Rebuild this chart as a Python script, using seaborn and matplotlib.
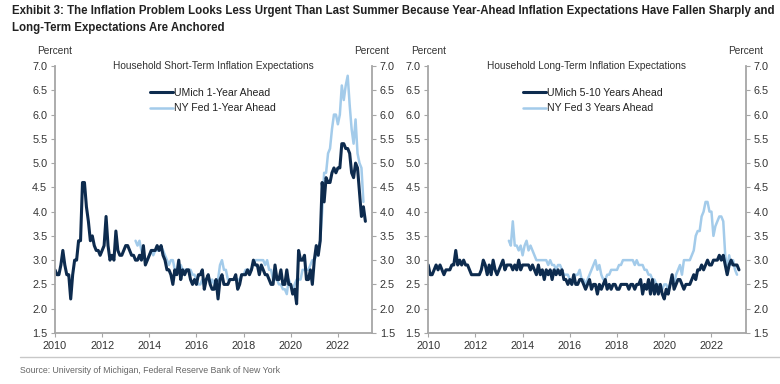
import numpy as np
import pandas as pd
import matplotlib
matplotlib.use("Agg")
import matplotlib.pyplot as plt
import seaborn as sns

sns.set_style("white")
plt.rcParams["font.family"] = ["Liberation Sans", "DejaVu Sans"]

# monthly data, percent
umich_1y = [
    2.8, 2.7, 2.7, 2.9, 3.2, 2.9, 2.7, 2.7, 2.2, 2.7, 3.0, 3.0,   # 2010
    3.4, 3.4, 4.6, 4.6, 4.1, 3.8, 3.4, 3.5, 3.3, 3.2, 3.2, 3.1,   # 2011
    3.2, 3.3, 3.9, 3.3, 3.0, 3.1, 3.0, 3.6, 3.2, 3.1, 3.1, 3.2,   # 2012
    3.3, 3.3, 3.2, 3.1, 3.1, 3.0, 3.0, 3.1, 3.0, 3.3, 2.9, 3.0,   # 2013
    3.1, 3.2, 3.2, 3.2, 3.3, 3.2, 3.3, 3.1, 3.0, 2.8, 2.8, 2.7,   # 2014
    2.5, 2.8, 2.7, 3.0, 2.6, 2.8, 2.7, 2.8, 2.8, 2.6, 2.5, 2.6,   # 2015
    2.5, 2.7, 2.7, 2.8, 2.4, 2.6, 2.7, 2.5, 2.4, 2.4, 2.6, 2.2,   # 2016
    2.6, 2.7, 2.5, 2.5, 2.5, 2.6, 2.6, 2.6, 2.7, 2.4, 2.5, 2.7,   # 2017
    2.7, 2.7, 2.8, 2.7, 2.8, 3.0, 2.9, 2.9, 2.7, 2.9, 2.8, 2.7,   # 2018
    2.7, 2.6, 2.5, 2.5, 2.9, 2.6, 2.6, 2.8, 2.5, 2.5, 2.8, 2.5,   # 2019
    2.5, 2.3, 2.4, 2.1, 3.2, 3.0, 3.0, 3.1, 2.6, 2.6, 2.8, 2.5,   # 2020
    3.0, 3.3, 3.1, 3.4, 4.6, 4.2, 4.7, 4.6, 4.6, 4.8, 4.9, 4.8,   # 2021
    4.9, 4.9, 5.4, 5.4, 5.3, 5.3, 5.2, 4.8, 4.7, 5.0, 4.9, 4.4,   # 2022
    3.9, 4.1, 3.8,                                                # 2023
]
nyfed_1y = [
    3.4, 3.3, 3.4, 3.2, 3.1, 3.0, 3.0,                            # 2013 Jun-Dec
    3.1, 3.2, 3.1, 3.2, 3.2, 3.2, 3.3, 3.2, 3.1, 3.0, 2.9, 3.0,   # 2014
    3.0, 2.8, 2.8, 2.8, 2.9, 2.8, 2.8, 2.8, 2.8, 2.8, 2.7, 2.7,   # 2015
    2.6, 2.5, 2.5, 2.6, 2.6, 2.6, 2.7, 2.5, 2.6, 2.5, 2.4, 2.6,   # 2016
    2.9, 3.0, 2.8, 2.8, 2.6, 2.6, 2.6, 2.6, 2.6, 2.6, 2.6, 2.7,   # 2017
    2.7, 2.8, 2.8, 2.8, 2.8, 2.9, 3.0, 3.0, 3.0, 3.0, 3.0, 2.9,   # 2018
    3.0, 2.8, 2.8, 2.6, 2.6, 2.6, 2.5, 2.5, 2.4, 2.4, 2.3, 2.6,   # 2019
    2.5, 2.4, 2.5, 2.6, 2.6, 2.6, 2.8, 2.8, 2.8, 2.8, 2.9, 3.0,   # 2020
    3.0, 3.1, 3.2, 3.4, 4.0, 4.8, 4.8, 5.2, 5.3, 5.7, 6.0, 6.0,   # 2021
    5.8, 6.0, 6.6, 6.3, 6.6, 6.8, 6.2, 5.7, 5.4, 5.9, 5.2, 5.0,   # 2022
    4.9, 4.2,                                                     # 2023
]
umich_5_10y = [
    2.9, 2.7, 2.7, 2.8, 2.9, 2.8, 2.9, 2.8, 2.7, 2.8, 2.8, 2.8,   # 2010
    2.9, 2.9, 3.2, 2.9, 3.0, 2.9, 3.0, 2.9, 2.9, 2.8, 2.7, 2.7,   # 2011
    2.7, 2.7, 2.7, 2.8, 3.0, 2.9, 2.7, 2.9, 2.7, 3.0, 2.8, 2.7,   # 2012
    2.8, 2.9, 3.0, 2.8, 2.9, 2.9, 2.9, 2.8, 2.9, 2.8, 3.0, 2.8,   # 2013
    2.9, 2.9, 2.9, 2.9, 2.8, 2.9, 2.8, 2.7, 2.9, 2.7, 2.8, 2.6,   # 2014
    2.8, 2.7, 2.8, 2.6, 2.8, 2.7, 2.8, 2.7, 2.8, 2.6, 2.6, 2.5,   # 2015
    2.6, 2.5, 2.7, 2.5, 2.5, 2.6, 2.6, 2.5, 2.4, 2.5, 2.6, 2.4,   # 2016
    2.5, 2.5, 2.3, 2.5, 2.4, 2.5, 2.6, 2.4, 2.5, 2.4, 2.5, 2.5,   # 2017
    2.4, 2.4, 2.5, 2.5, 2.5, 2.5, 2.4, 2.5, 2.5, 2.4, 2.5, 2.5,   # 2018
    2.6, 2.3, 2.5, 2.4, 2.6, 2.3, 2.6, 2.3, 2.5, 2.3, 2.5, 2.3,   # 2019
    2.2, 2.4, 2.3, 2.5, 2.7, 2.4, 2.5, 2.6, 2.6, 2.5, 2.4, 2.5,   # 2020
    2.5, 2.5, 2.6, 2.7, 2.6, 2.8, 2.8, 2.9, 2.8, 2.9, 3.0, 2.9,   # 2021
    2.9, 3.0, 3.0, 3.0, 3.1, 3.0, 3.1, 2.9, 2.7, 2.9, 3.0, 2.9,   # 2022
    2.9, 2.9, 2.8,                                                # 2023
]
nyfed_3y = [
    3.4, 3.3, 3.8, 3.3, 3.3, 3.2, 3.3,                            # 2013 Jun-Dec
    3.1, 3.3, 3.4, 3.2, 3.3, 3.2, 3.1, 3.0, 3.0, 3.0, 3.0, 3.0,   # 2014
    3.0, 2.9, 3.0, 2.9, 2.9, 2.8, 2.9, 2.9, 2.8, 2.7, 2.7, 2.7,   # 2015
    2.6, 2.5, 2.6, 2.7, 2.7, 2.8, 2.6, 2.6, 2.5, 2.6, 2.7, 2.8,   # 2016
    2.9, 3.0, 2.8, 2.9, 2.7, 2.6, 2.6, 2.7, 2.7, 2.8, 2.8, 2.8,   # 2017
    2.8, 2.9, 2.9, 3.0, 3.0, 3.0, 3.0, 3.0, 3.0, 2.9, 3.0, 2.9,   # 2018
    2.9, 2.9, 2.8, 2.8, 2.7, 2.7, 2.6, 2.6, 2.5, 2.5, 2.4, 2.4,   # 2019
    2.5, 2.5, 2.4, 2.5, 2.6, 2.5, 2.7, 2.8, 2.9, 2.7, 3.0, 3.0,   # 2020
    3.0, 3.0, 3.1, 3.2, 3.5, 3.6, 3.6, 3.9, 4.0, 4.2, 4.2, 4.0,   # 2021
    4.0, 3.5, 3.7, 3.8, 3.9, 3.9, 3.8, 3.1, 2.8, 3.1, 2.9, 3.0,   # 2022
    2.8, 2.7,                                                     # 2023
]

dark = "#0d2b4e"
light = "#a3cbea"
grey = "#a6a6a6"


def monthly(start, values):
    d = pd.date_range(start, periods=len(values), freq="MS")
    return d.year + (d.month - 1) / 12


def frame(series):
    parts = []
    for name, start, vals in series:
        parts.append(pd.DataFrame({"date": monthly(start, vals), "value": vals, "series": name}))
    return pd.concat(parts, ignore_index=True)


short_df = frame([("UMich 1-Year Ahead", "2010-01-01", umich_1y),
                  ("NY Fed 1-Year Ahead", "2013-06-01", nyfed_1y)])
long_df = frame([("UMich 5-10 Years Ahead", "2010-01-01", umich_5_10y),
                 ("NY Fed 3 Years Ahead", "2013-06-01", nyfed_3y)])

fig = plt.figure(figsize=(7.8, 3.84), dpi=100)
ax1 = fig.add_axes([0.0705, 0.133, 0.4065, 0.695])
ax2 = fig.add_axes([0.549, 0.133, 0.407, 0.695])

panels = [
    (ax1, short_df, "Household Short-Term Inflation Expectations",
     ["NY Fed 1-Year Ahead", "UMich 1-Year Ahead"]),
    (ax2, long_df, "Household Long-Term Inflation Expectations",
     ["NY Fed 3 Years Ahead", "UMich 5-10 Years Ahead"]),
]

yt = np.arange(1.5, 7.01, 0.5)

for ax, df, title, order in panels:
    pal = {order[0]: light, order[1]: dark}
    # light series first so the dark one sits on top
    for name in order:
        sub = df[df["series"] == name]
        sns.lineplot(data=sub, x="date", y="value", color=pal[name],
                     lw=2.2 if pal[name] == dark else 1.8, ax=ax, label=name)
    ax.set_xlim(2010, 2023.45)
    ax.set_ylim(1.5, 7.0)
    ax.set_xticks(np.arange(2010, 2023, 2))
    ax.set_yticks(yt)
    ax.set_yticklabels([f"{v:.1f}" for v in yt])
    ax.set_xlabel("")
    ax.set_ylabel("")
    for s in ["top", "right"]:
        ax.spines[s].set_visible(False)
    for s in ["left", "bottom"]:
        ax.spines[s].set_color(grey)
        ax.spines[s].set_linewidth(1.3)
    ax.tick_params(axis="both", direction="out", length=3, width=0.8, color=grey,
                   labelsize=7.8, labelcolor="#333333", pad=2.5, left=True, bottom=True)
    ax.tick_params(axis="x", pad=3)

    twin = ax.twinx()
    twin.set_ylim(1.5, 7.0)
    twin.set_yticks(yt)
    twin.set_yticklabels([f"{v:.1f}" for v in yt])
    for s in ["top", "left", "bottom"]:
        twin.spines[s].set_visible(False)
    twin.spines["right"].set_color(grey)
    twin.spines["right"].set_linewidth(1.3)
    twin.tick_params(axis="y", direction="out", length=3, width=0.8, color=grey,
                     labelsize=7.8, labelcolor="#333333", pad=2.5)

    ax.text(0.5, 1.0, title, transform=ax.transAxes, ha="center", va="center",
            fontsize=7.3, color="#333333")
    ax.text(0.0, 1.056, "Percent", transform=ax.transAxes, ha="center", va="center",
            fontsize=7.3, color="#333333")
    ax.text(1.0, 1.056, "Percent", transform=ax.transAxes, ha="center", va="center",
            fontsize=7.3, color="#333333")

    handles, labels = ax.get_legend_handles_labels()
    leg = ax.legend(handles[::-1], labels[::-1], loc="upper left",
                    bbox_to_anchor=(0.285, 0.935), frameon=False, fontsize=7.6,
                    handlelength=2.2, handletextpad=0.1, labelspacing=0.55,
                    borderaxespad=0)
    for t in leg.get_texts():
        t.set_color("#222222")

title_kw = dict(ha="left", va="center", fontsize=8.3, fontweight="bold", color="#222222")
fig.text(0.016, 0.972, "Exhibit 3: The Inflation Problem Looks Less Urgent Than Last Summer "
         "Because Year-Ahead Inflation Expectations Have Fallen Sharply and", **title_kw)
fig.text(0.016, 0.927, "Long-Term Expectations Are Anchored", **title_kw)

fig.add_artist(plt.Line2D([0.026, 1.0], [0.07, 0.07], transform=fig.transFigure,
                          color="#c8c8c8", lw=1.0))
fig.text(0.026, 0.034, "Source: University of Michigan, Federal Reserve Bank of New York",
         ha="left", va="center", fontsize=6.3, color="#666666")

fig.savefig("out.png", dpi=100)
